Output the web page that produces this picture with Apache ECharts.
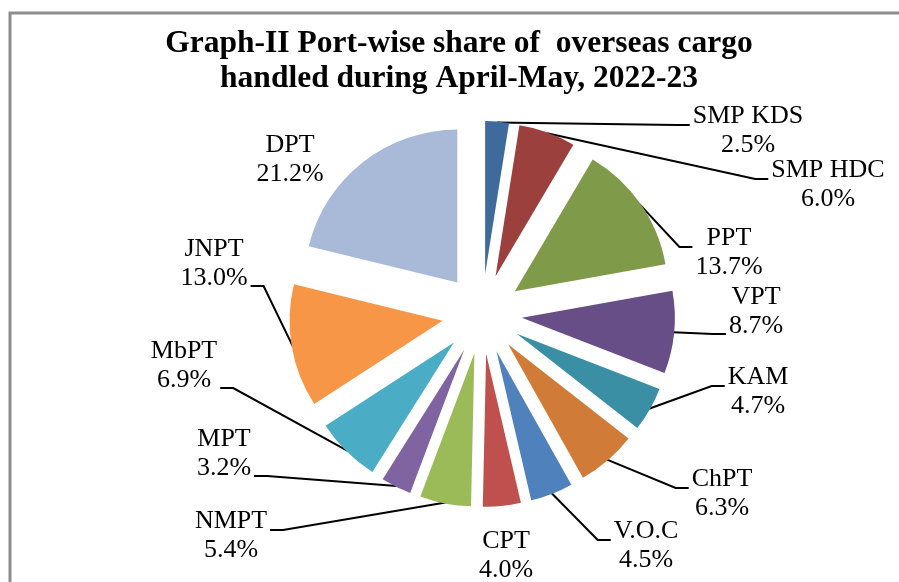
<!doctype html>
<html>
    <head>
        <meta charset="utf-8">
        <title>Port-wise share of overseas cargo</title>
        <style>
            html, body { margin: 0; padding: 0; background: #fff; }
            #main { width: 899px; height: 582px; }
        </style>
    </head>
    <body>
        <div id="main"></div>
        <script src="https://cdn.jsdelivr.net/npm/echarts@6/dist/echarts.min.js"></script>
        <script>
            var ports = ['SMP KDS', 'SMP HDC', 'PPT', 'VPT', 'KAM', 'ChPT', 'V.O.C', 'CPT', 'NMPT', 'MPT', 'MbPT', 'JNPT', 'DPT'];
            var shares = [2.5, 6.0, 13.7, 8.7, 4.7, 6.3, 4.5, 4.0, 5.4, 3.2, 6.9, 13.0, 21.2];
            var colors = ['#3f6a9c', '#9c403d', '#7f9b4a', '#684e87', '#3a8fa5', '#d07c38', '#4f81bd',
                '#c0504d', '#9bbb59', '#8064a2', '#4bacc6', '#f79646', '#a9b9d8'];

            // where each label block sits (centre), like the Excel layout
            var labelSpots = [[748, 131], [828, 185], [729, 253], [756, 312], [758, 392], [722, 494], [646, 546],
                [506, 556], [231, 536], [224, 454], [184, 366], [214, 264], [290, 160]];
            var noLine = { 'CPT': true, 'DPT': true };
            var LH = 29;

            var chart = echarts.init(document.getElementById('main'));

            var slices = ports.map(function (name, i) {
                return {
                    name: name,
                    value: shares[i],
                    selected: true,
                    itemStyle: { color: colors[i] }
                };
            });

            // invisible twin pie, as big as the exploded one, that only carries the labels
            var labelSlices = ports.map(function (name, i) {
                return {
                    name: name,
                    value: shares[i],
                    labelLine: { show: !noLine[name] }
                };
            });

            chart.setOption({
                animation: false,
                title: {
                    text: 'Graph-II Port-wise share of  overseas cargo\nhandled during April-May, 2022-23',
                    left: 454,
                    top: 21,
                    textAlign: 'center',
                    textStyle: {
                        fontFamily: 'Liberation Serif',
                        fontSize: 31.5,
                        fontWeight: 'bold',
                        color: '#000',
                        lineHeight: 35
                    }
                },
                graphic: [{
                    type: 'rect',
                    shape: { x: 10, y: 13, width: 1000, height: 1000 },
                    style: { fill: 'none', stroke: '#8c8c8c', lineWidth: 3 },
                    silent: true
                }],
                series: [{
                    type: 'pie',
                    center: [482, 314],
                    radius: 153,
                    startAngle: 90,
                    clockwise: true,
                    selectedMode: 'multiple',
                    selectedOffset: 40,
                    data: slices,
                    label: { show: false },
                    labelLine: { show: false },
                    emphasis: { disabled: true }
                }, {
                    type: 'pie',
                    center: [482, 314],
                    radius: 192,
                    startAngle: 90,
                    clockwise: true,
                    silent: true,
                    data: labelSlices,
                    itemStyle: { color: 'rgba(0,0,0,0)' },
                    label: {
                        show: true,
                        position: 'outside',
                        fontFamily: 'Liberation Serif',
                        fontSize: 26,
                        lineHeight: LH,
                        color: '#000',
                        formatter: function (p) {
                            return p.name + '\n' + p.value.toFixed(1) + '%';
                        }
                    },
                    labelLayout: function (p) {
                        var s = labelSpots[p.dataIndex];
                        var out = { x: s[0], y: s[1], align: 'center', verticalAlign: 'middle' };
                        var pts = p.labelLinePoints;
                        if (pts && pts.length) {
                            var a = pts[0];
                            var half = p.labelRect.width / 2;
                            var right = s[0] > a[0];
                            // hook onto the first line, or the second when the slice sits lower
                            var ey = a[1] > s[1] + 20 ? s[1] + 22 : s[1] - 6;
                            var ex = right ? s[0] - half - 3 : s[0] + half + 3;
                            var mx = right ? ex - 13 : ex + 13;
                            out.labelLinePoints = [[a[0], a[1]], [mx, ey], [ex, ey]];
                        }
                        return out;
                    },
                    labelLine: {
                        show: true,
                        length: 10,
                        length2: 10,
                        lineStyle: { color: '#000', width: 2 }
                    },
                    emphasis: { disabled: true }
                }]
            });

            window.addEventListener('resize', function () {
                chart.resize();
            });
        </script>
    </body>
</html>
